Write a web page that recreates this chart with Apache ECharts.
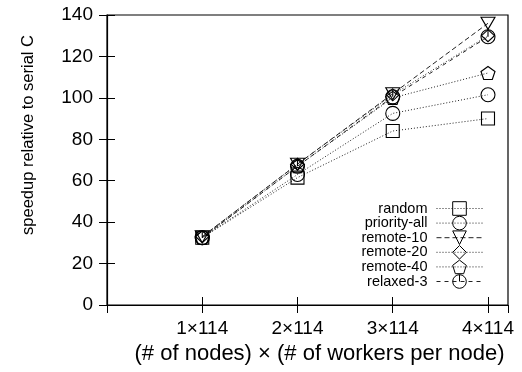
<!DOCTYPE html>
<html>
<head>
<meta charset="utf-8">
<script src="https://cdn.jsdelivr.net/npm/echarts@6/dist/echarts.min.js"></script>
<style>html,body{margin:0;padding:0;background:#fff}#c{width:522px;height:372px}</style>
</head>
<body>
<div id="c"></div>
<script>
var nodes = [1, 2, 3, 4];
var xTickLabels = ['1×114', '2×114', '3×114', '4×114'];
var seriesNames = ['random', 'priority-all', 'remote-10', 'remote-20', 'remote-40', 'relaxed-3'];
var random = [32.5, 61.5, 84, 90];
var priorityAll = [32.5, 63, 92.5, 101.5];
var remote10 = [33, 68, 102, 136];
var remote20 = [33, 68, 101.5, 130];
var remote40 = [32.5, 67, 100, 112];
var relaxed3 = [32.5, 67, 100.5, 129.5];
var values = [random, priorityAll, remote10, remote20, remote40, relaxed3];

var FONT = 'Liberation Sans, Arial, Helvetica, sans-serif';
var symbols = [
  'rect',
  'circle',
  'path://M0,0 L14,0 L7,12 Z',
  'path://M6.5,0 L13,6 L6.5,12 L0,6 Z',
  'path://M7,0 L14,5.1 L11.3,13.3 L2.7,13.3 L0,5.1 Z',
  'path://M7,0 A7,7 0 1,1 6.99,0 Z M7,0 L7,7'
];
var sizes = [[13,13],[14,14],[14,12],[13,12],[14,13],[14,14]];
var dashes = [[1,2],[1,2],[5,3],[1,2],[1,2],[4,4]];

var series = seriesNames.map(function (name, i) {
  return {
    name: name,
    type: 'line',
    data: nodes.map(function (n, j) { return [n, values[i][j]]; }),
    symbol: symbols[i],
    symbolSize: sizes[i],
    showAllSymbol: true,
    lineStyle: { color: '#222', width: 1, type: dashes[i] },
    itemStyle: { color: 'rgba(0,0,0,0)', borderColor: '#000', borderWidth: 1.1 },
    emphasis: { disabled: true },
    z: 2 + i
  };
});

var chart = echarts.init(document.getElementById('c'), null, { renderer: 'canvas' });
chart.setOption({
  animation: false,
  backgroundColor: '#fff',
  textStyle: { fontFamily: FONT },
  grid: { left: 107, right: 14, top: 15, bottom: 67, show: true, borderColor: '#000', borderWidth: 1.2, containLabel: false },
  legend: {
    orient: 'vertical',
    right: 34,
    top: 196,
    align: 'right',
    itemWidth: 46,
    itemHeight: 17,
    itemGap: -0.4,
    lineStyle: { width: 1 },
    itemStyle: { borderWidth: 1 },
    textStyle: { fontFamily: FONT, fontSize: 14.5, color: '#000', padding: [0, 4, 0, 0] },
    data: seriesNames
  },
  xAxis: [{
    type: 'value', min: 0, max: 4.21, interval: 1,
    name: '(# of nodes) × (# of workers per node)',
    nameLocation: 'middle', nameGap: 31,
    nameTextStyle: { fontFamily: FONT, fontSize: 22, color: '#000', padding: [0, 0, 0, 24] },
    axisLine: { show: true, lineStyle: { color: '#000', width: 1.2 } },
    axisTick: { show: true, inside: true, length: 8, lineStyle: { color: '#000' } },
    axisLabel: {
      margin: 14, fontSize: 19, color: '#000', fontFamily: FONT,
      showMaxLabel: false,
      formatter: function (v) { var k = nodes.indexOf(v); return k >= 0 ? xTickLabels[k] : ''; }
    },
    splitLine: { show: false }
  }, {
    type: 'value', min: 0, max: 4.21, interval: 1, position: 'top',
    axisLine: { show: false },
    axisTick: { show: true, inside: true, length: 8, lineStyle: { color: '#000' } },
    axisLabel: { show: false }, splitLine: { show: false }
  }],
  yAxis: [{
    type: 'value', min: 0, max: 140, interval: 20,
    name: 'speedup relative to serial C',
    nameLocation: 'middle', nameGap: 70, nameRotate: 90,
    nameTextStyle: { fontFamily: FONT, fontSize: 16.5, color: '#000', padding: [0, 0, 0, 50] },
    axisLine: { show: true, lineStyle: { color: '#000', width: 1.2 } },
    axisTick: { show: true, inside: true, length: 8, lineStyle: { color: '#000' } },
    axisLabel: { margin: 14, fontSize: 19, color: '#000', fontFamily: FONT },
    splitLine: { show: false }
  }, {
    type: 'value', min: 0, max: 140, interval: 20, position: 'right',
    axisLine: { show: false },
    axisTick: { show: true, inside: true, length: 8, lineStyle: { color: '#000' } },
    axisLabel: { show: false }, splitLine: { show: false }
  }],
  series: series
});
</script>
</body>
</html>
